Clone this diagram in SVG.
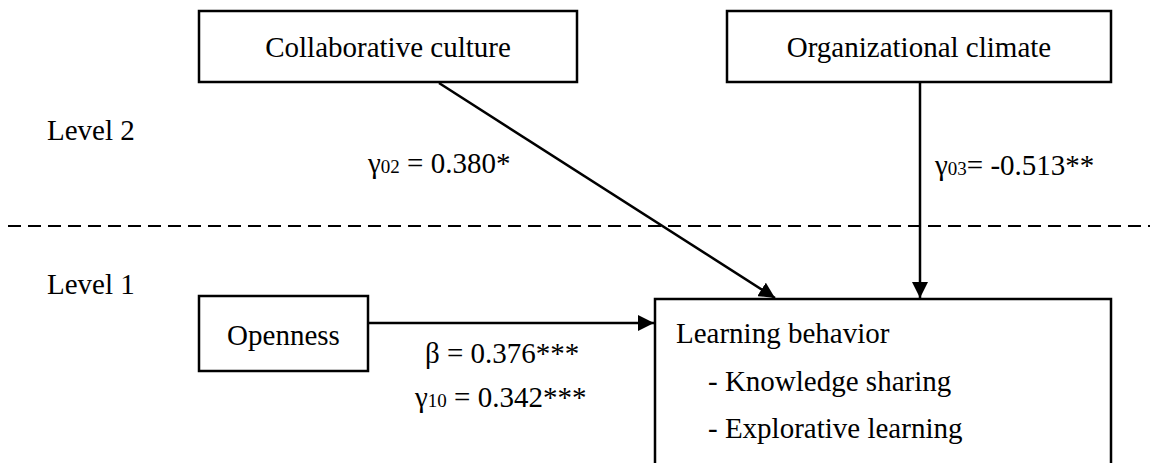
<svg xmlns="http://www.w3.org/2000/svg" width="1150" height="463" viewBox="0 0 1150 463">
<style>
text{font-family:"Liberation Serif","Times New Roman","DejaVu Serif",serif;font-size:29px;fill:#000}
.box{fill:#fff;stroke:#000;stroke-width:2.5}
.ln{stroke:#000;stroke-width:2.5;fill:none}
.sub{font-size:19px}
</style>
<defs>
<marker id="ah" viewBox="0 0 16 16" refX="16" refY="8" markerWidth="16" markerHeight="16" markerUnits="userSpaceOnUse" orient="auto">
<path d="M0,0 L16,8 L0,16 Z" fill="#000"/>
</marker>
</defs>
<rect width="1150" height="463" fill="#fff"/>
<text x="47" y="140">Level 2</text>
<text x="47" y="294">Level 1</text>
<line x1="8" y1="226" x2="1150" y2="226" stroke="#000" stroke-width="2" stroke-dasharray="13 7"/>
<g id="collab">
<rect class="box" x="199" y="11" width="378" height="71"/>
<text x="388" y="57" text-anchor="middle">Collaborative culture</text>
</g>
<g id="orgclimate">
<rect class="box" x="727" y="11" width="384" height="71"/>
<text x="919" y="57" text-anchor="middle">Organizational climate</text>
</g>
<g id="openness">
<rect class="box" x="199" y="296" width="169" height="75"/>
<text x="283.5" y="345" text-anchor="middle">Openness</text>
</g>
<g id="learning">
<rect class="box" x="655" y="299" width="456" height="180"/>
<text x="676" y="343">Learning behavior</text>
<text x="708" y="391">- Knowledge sharing</text>
<text x="708" y="438">- Explorative learning</text>
</g>
<g id="connectors">
<line class="ln" x1="439" y1="83" x2="775" y2="298" marker-end="url(#ah)"/>
<line class="ln" x1="920" y1="83" x2="920" y2="298" marker-end="url(#ah)"/>
<line class="ln" x1="368" y1="323" x2="654" y2="323" marker-end="url(#ah)"/>
<text x="368" y="173">γ<tspan class="sub">02</tspan> = 0.380*</text>
<text x="935" y="175">γ<tspan class="sub">03</tspan>= -0.513**</text>
<text x="425" y="363">β = 0.376***</text>
<text x="415" y="407">γ<tspan class="sub">10</tspan> = 0.342***</text>
</g>
</svg>
